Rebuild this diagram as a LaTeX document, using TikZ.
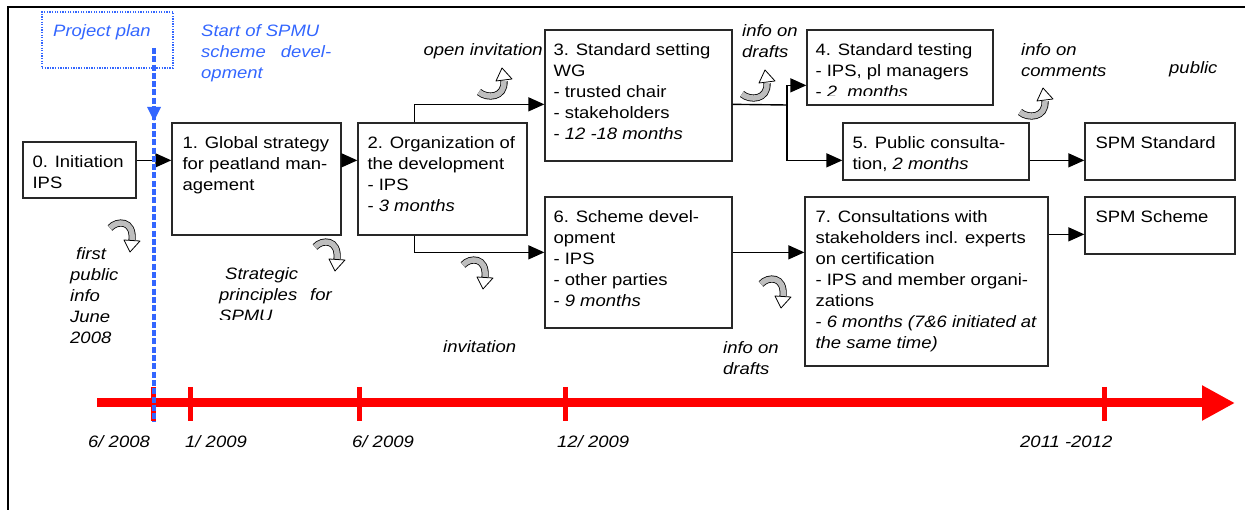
\documentclass[tikz,border=0pt]{standalone}
\usepackage{fontspec}
\setmainfont{Liberation Sans}[FakeStretch=1.12]
\usetikzlibrary{arrows.meta,calc}
\definecolor{planblue}{RGB}{51,102,255}
\definecolor{bandgray}{RGB}{190,190,190}
\definecolor{boxline}{RGB}{40,40,40}
\newcommand{\mainsize}{\fontsize{16.5}{21}\selectfont}

\begin{document}
\begin{tikzpicture}[x=1pt,y=-1pt,
  box/.style={draw=boxline,line width=1.3pt,inner sep=0pt},
  txt/.style={inner sep=0pt,anchor=north west,align=left,font=\mainsize},
  itxt/.style={txt,font=\mainsize\itshape},
  lbl/.style={inner sep=0pt,anchor=base west,font=\mainsize\itshape},
  conn/.style={draw=black,line width=1.4pt,-{Triangle[length=16pt,width=14pt]}},
  band/.style={draw=black,line width=0.8pt,double=bandgray,double distance=5.5pt},
  bandtip/.style={draw=black,fill=white,line width=0.8pt,line join=round},
  curvup/.pic={
    \draw[band] (2,24) .. controls (10,31) and (28,30) .. (27,13);
    \draw[bandtip] (19,13) -- (35,11) -- (25,0) -- cycle;
  },
  curvdown/.pic={
    \draw[band] (3,8) .. controls (10,0) and (27,0) .. (25,20);
    \draw[bandtip] (17,20) -- (33,21) -- (23,32) -- cycle;
  }]
\useasboundingbox (0,0) rectangle (1245,510);

% page frame (top and left rules)
\draw[line width=2.2pt] (8,510) -- (8,7) -- (1245,7);

% project plan marker
\node[draw=planblue,line width=1.3pt,dash pattern=on 1.3pt off 1.3pt,
      minimum width=131pt,minimum height=56pt,inner sep=0pt] (pp) at (107.5,40) {};
\node[lbl,text=planblue] (tpp) at (53,37) {Project plan};
\node[itxt,text=planblue] (tstart) at (201,21.3)
  {\strut Start of SPMU\\scheme\hspace{15pt}devel-\\opment};

% process boxes
\node[box,minimum width=113pt,minimum height=56pt]  (b0) at (79.5,170) {};
\node[box,minimum width=169pt,minimum height=112pt] (b1) at (256.5,179) {};
\node[box,minimum width=169pt,minimum height=112pt] (b2) at (442.5,179) {};
\node[box,minimum width=187pt,minimum height=131pt] (b3) at (638.5,95.5) {};
\node[box,minimum width=186pt,minimum height=75pt]  (b4) at (900,67.5) {};
\node[box,minimum width=186pt,minimum height=57pt]  (b5) at (936,151.5) {};
\node[box,minimum width=150pt,minimum height=57pt]  (s1) at (1160,151.5) {};
\node[box,minimum width=187pt,minimum height=131pt] (b6) at (638.5,262.5) {};
\node[box,minimum width=243pt,minimum height=169pt] (b7) at (926.5,281.5) {};
\node[box,minimum width=150pt,minimum height=57pt]  (s2) at (1160,225.5) {};

% box texts
\node[txt] (t0) at ($(b0.north west)+(10,11.3)$) {\strut 0. Initiation\\IPS};
\node[txt] (t1) at ($(b1.north west)+(11,11.3)$) {\strut 1. Global strategy\\for peatland man-\\agement};
\node[txt] (t2) at ($(b2.north west)+(10,11.3)$) {\strut 2. Organization of\\the development\\- IPS\\- \textit{3 months}};
\node[txt] (t3) at ($(b3.north west)+(9,11.3)$) {\strut 3. Standard setting\\WG\\- trusted chair\\- stakeholders\\- \textit{12 -18 months}};
\begin{scope}
  \clip (808,31) rectangle (992,95.5);
  \node[txt] (t4) at ($(b4.north west)+(9,11.3)$) {\strut 4. Standard testing\\- IPS, pl managers\\- \textit{2\ \ months}};
\end{scope}
\begin{scope}
  \clip (844,124) rectangle (1028,171.5);
  \node[txt] (t5) at ($(b5.north west)+(10,11.3)$) {\strut 5. Public consulta-\\tion, \textit{2 months}};
\end{scope}
\node[txt] (ts1) at ($(s1.north west)+(11,11.3)$) {\strut SPM Standard};
\node[txt] (t6) at ($(b6.north west)+(9,11.3)$) {\strut 6. Scheme devel-\\opment\\- IPS\\- other parties\\- \textit{9 months}};
\node[txt] (t7) at ($(b7.north west)+(11,11.3)$) {\strut 7. Consultations with\\stakeholders incl. experts\\on certification\\- IPS and member organi-\\zations\\- \textit{6 months (7\&6 initiated at}\\\textit{the same time)}};
\node[txt] (ts2) at ($(s2.north west)+(11,11.3)$) {\strut SPM Scheme};

% connectors
\coordinate (sp) at (787,105);
\draw[conn] ($(b0.north east)+(0,19)$) -- ($(b1.north west)+(0,38)$);
\draw[conn] ($(b1.north east)+(0,38)$) -- ($(b2.north west)+(0,38)$);
\draw[conn] ($(b2.north west)+(57,0)$) |- ($(b3.north west)+(0,75)$);
\draw[conn] ($(b2.south west)+(57,0)$) |- ($(b6.north west)+(0,56)$);
\draw[line width=1.4pt] ($(b3.north east)+(0,75)$) -- (sp);
\draw[conn] (sp) |- ($(b4.north west)+(0,56)$);
\draw[conn] (sp) |- ($(b5.north west)+(0,38)$);
\draw[conn] ($(b5.north east)+(0,38)$) -- ($(s1.north west)+(0,38)$);
\draw[conn] ($(b6.north east)+(0,56)$) -- ($(b7.north west)+(0,56)$);
\draw[conn] ($(b7.north east)+(0,38)$) -- ($(s2.north west)+(0,38)$);

% side notes
\node[lbl,anchor=base east] (toi) at (543,56) {open invitation};
\node[itxt] (tid1) at (742,21.3) {\strut info on\\drafts};
\node[itxt] (tic) at (1021,40.3) {\strut info on\\comments};
\node[lbl] (tpub) at (1169,74) {public};
\node[itxt] (tfp) at (70,244.3) {\strut\hspace{6pt}first\\public\\info\\June\\2008};
\begin{scope}
  \clip (200,250) rectangle (345,320);
  \node[itxt] (tsp) at (219,264.3) {\strut\hspace{6pt}Strategic\\principles\hspace{13pt}for\\SPMU};
\end{scope}
\node[lbl] (tinv) at (443,353) {invitation};
\node[itxt] (tid2) at (723,338.3) {\strut info on\\drafts};

% curved note arrows
\pic at (477,68) {curvup};
\pic at (740,70) {curvup};
\pic at (1018,88) {curvup};
\pic at (107,220) {curvdown};
\pic at (312,239) {curvdown};
\pic at (460,257) {curvdown};
\pic at (758,276) {curvdown};

% time axis
\coordinate (ta) at (97,403);
\coordinate (tb) at (1235,403);
\draw[red,line width=9pt,-{Triangle[length=33pt,width=33pt]}] (ta) -- (tb);
\foreach \tx in {153,190,359,565,1104}
  \draw[red,line width=5pt] (\tx,387) -- (\tx,421);
\node[lbl] (d1) at (88,447) {6/ 2008};
\node[lbl] (d2) at (185,447) {1/ 2009};
\node[lbl] (d3) at (352,447) {6/ 2009};
\node[lbl] (d4) at (557,447) {12/ 2009};
\node[lbl] (d5) at (1020,447) {2011 -2012};

% start marker line
\coordinate (ms) at (154,48);
\coordinate (me) at (154,422);
\draw[planblue,line width=4.5pt,dash pattern=on 6pt off 2.3pt] (ms) -- (me);
\fill[planblue] (147,107) -- (161,107) -- (154,121) -- cycle;
\end{tikzpicture}
\end{document}
